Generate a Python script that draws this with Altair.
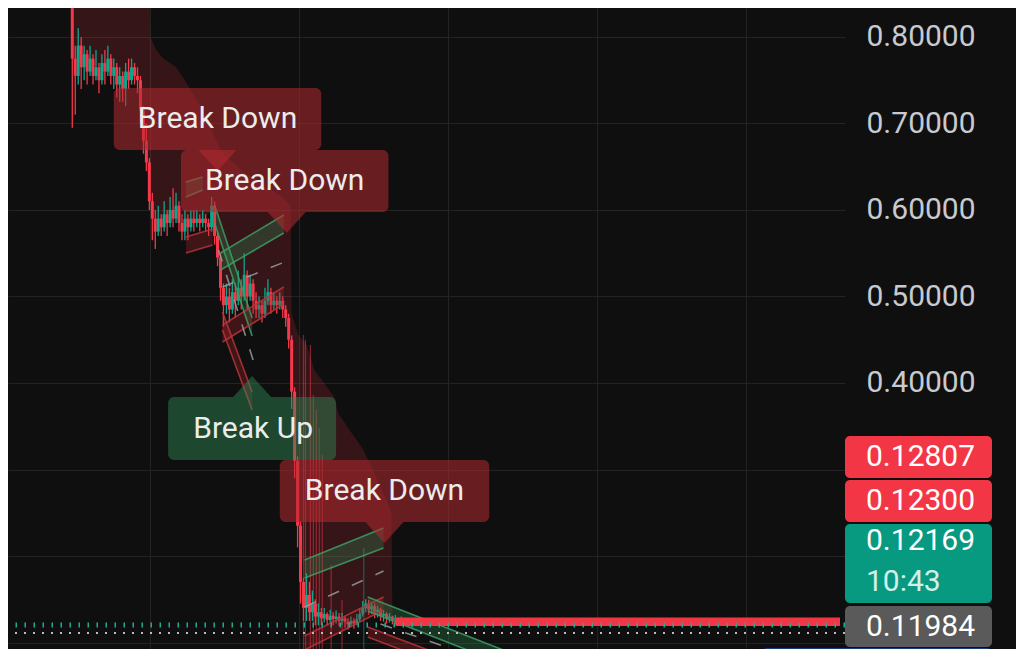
import altair as alt
import pandas as pd

BG = "#0f0f0f"
RED = "#f23645"
TEAL = "#089981"
GRID = "#232323"

# ---------------- data ----------------
price_ticks = [0.1, 0.2, 0.3, 0.4, 0.5, 0.6, 0.7, 0.8]
time_grid = [147, 297, 448, 599, 750]

candle_t = list(range(68, 411, 3))
first_open = 0.86
close = [0.775, 0.755, 0.79, 0.765, 0.78, 0.76, 0.775, 0.755, 0.765, 0.75,
         0.77, 0.76, 0.775, 0.755, 0.765, 0.745, 0.755, 0.74, 0.76, 0.75,
         0.765, 0.755, 0.75, 0.715, 0.68, 0.655, 0.61, 0.59, 0.575, 0.59,
         0.58, 0.595, 0.585, 0.60, 0.59, 0.605, 0.585, 0.575, 0.59, 0.58,
         0.59, 0.585, 0.59, 0.585, 0.59, 0.585, 0.58, 0.605, 0.57, 0.545,
         0.51, 0.49, 0.50, 0.485, 0.505, 0.495, 0.51, 0.50, 0.525, 0.50,
         0.515, 0.495, 0.485, 0.49, 0.48, 0.495, 0.505, 0.49, 0.495, 0.49,
         0.495, 0.485, 0.475, 0.45, 0.39, 0.31, 0.235, 0.17, 0.14, 0.155,
         0.135, 0.145, 0.13, 0.135, 0.128, 0.133, 0.126, 0.131, 0.127, 0.13,
         0.125, 0.128, 0.124, 0.121, 0.125, 0.122, 0.127, 0.133, 0.14, 0.145,
         0.138, 0.142, 0.135, 0.138, 0.131, 0.133, 0.128, 0.13, 0.126, 0.128,
         0.124, 0.126, 0.123, 0.1225, 0.12169]
high = [0.87, 0.79, 0.81, 0.80, 0.79, 0.785, 0.79, 0.78, 0.785, 0.77,
        0.78, 0.785, 0.79, 0.78, 0.775, 0.77, 0.765, 0.76, 0.77, 0.775,
        0.775, 0.77, 0.765, 0.755, 0.72, 0.70, 0.66, 0.62, 0.60, 0.605,
        0.595, 0.61, 0.60, 0.615, 0.625, 0.62, 0.61, 0.595, 0.60, 0.595,
        0.60, 0.60, 0.60, 0.595, 0.60, 0.595, 0.59, 0.615, 0.61, 0.575,
        0.55, 0.515, 0.515, 0.51, 0.52, 0.515, 0.53, 0.52, 0.55, 0.53,
        0.525, 0.52, 0.505, 0.50, 0.495, 0.51, 0.52, 0.51, 0.505, 0.50,
        0.505, 0.50, 0.49, 0.48, 0.455, 0.395, 0.315, 0.24, 0.175, 0.18,
        0.17, 0.16, 0.15, 0.145, 0.14, 0.14, 0.135, 0.138, 0.135, 0.137,
        0.134, 0.134, 0.131, 0.128, 0.13, 0.128, 0.133, 0.14, 0.148, 0.15,
        0.149, 0.147, 0.145, 0.142, 0.14, 0.137, 0.135, 0.134, 0.131, 0.132,
        0.129, 0.13, 0.127, 0.125, 0.124]
low = [0.695, 0.71, 0.745, 0.74, 0.75, 0.745, 0.755, 0.745, 0.75, 0.735,
       0.745, 0.745, 0.755, 0.745, 0.74, 0.73, 0.725, 0.725, 0.72, 0.74,
       0.745, 0.745, 0.735, 0.70, 0.665, 0.645, 0.60, 0.565, 0.555, 0.57,
       0.57, 0.575, 0.57, 0.58, 0.58, 0.585, 0.575, 0.565, 0.565, 0.565,
       0.575, 0.575, 0.58, 0.575, 0.58, 0.575, 0.57, 0.575, 0.56, 0.535,
       0.495, 0.465, 0.48, 0.47, 0.48, 0.475, 0.49, 0.485, 0.495, 0.485,
       0.495, 0.48, 0.475, 0.475, 0.47, 0.475, 0.49, 0.48, 0.485, 0.48,
       0.485, 0.475, 0.465, 0.44, 0.37, 0.29, 0.21, 0.145, 0.125, 0.125,
       0.125, 0.125, 0.12, 0.12, 0.12, 0.123, 0.12, 0.122, 0.12, 0.122,
       0.119, 0.12, 0.117, 0.115, 0.118, 0.116, 0.12, 0.124, 0.13, 0.135,
       0.132, 0.133, 0.128, 0.129, 0.125, 0.124, 0.122, 0.123, 0.121, 0.121,
       0.119, 0.12, 0.119, 0.12, 0.119]

# long faded wicks
spike_t = [302, 304, 309, 312, 315, 318, 321, 330, 341, 363]
spike_high = [0.4555, 0.45, 0.444, 0.386, 0.369, 0.348, 0.317, 0.19, 0.149, 0.209]
spike_low = [0.05, 0.05, 0.05, 0.05, 0.05, 0.05, 0.05, 0.05, 0.05, 0.05]
spike_dir = ["down", "down", "down", "down", "down", "down", "down", "down", "down", "up"]

# trailing shaded zone
shade_t = [68, 80, 100, 120, 135, 140, 146, 147, 153, 160, 167, 173, 182, 200, 210,
           220, 240, 260, 280, 289, 290, 297, 305, 313, 333, 337, 363, 380, 391, 392]
shade_lo = [0.77, 0.77, 0.765, 0.755, 0.75, 0.70, 0.62, 0.61, 0.59, 0.59, 0.60, 0.60, 0.59, 0.59, 0.60,
            0.50, 0.51, 0.49, 0.495, 0.45, 0.44, 0.23, 0.155, 0.145, 0.13, 0.13, 0.14, 0.135, 0.13, 0.13]
shade_hi = [0.86, 0.86, 0.86, 0.86, 0.86, 0.86, 0.86, 0.80, 0.785, 0.775, 0.77, 0.765, 0.75, 0.715, 0.69,
            0.665, 0.645, 0.63, 0.615, 0.605, 0.48, 0.455, 0.445, 0.415, 0.384, 0.365, 0.322, 0.28, 0.25, 0.13]

# channel bands
band_id = ["g1", "rb", "ga", "gs", "rs", "rr1", "g2", "rr2", "gf", "rf"]
band_kind = ["g", "r", "g", "g", "r", "r", "g", "r", "g", "r"]
band_t1 = [218, 183, 183, 212, 220, 220, 303, 303, 367, 367]
band_t2 = [282, 210, 200, 250, 250, 282, 383, 383, 530, 460]
band_top1 = [0.5503, 0.5688, 0.6324, 0.6058, 0.4821, 0.4671, 0.1954, 0.1075, 0.1526, 0.1179]
band_top2 = [0.5942, 0.5780, 0.6382, 0.4751, 0.3896, 0.5110, 0.2324, 0.1526, 0.0798, 0.0775]
band_bot1 = [0.5306, 0.5503, 0.6150, 0.5850, 0.4613, 0.4474, 0.1746, 0.0913, 0.1364, 0.1064]
band_bot2 = [0.5734, 0.5595, 0.6231, 0.4543, 0.3688, 0.4913, 0.2092, 0.1376, 0.0636, 0.0659]

# dashed midlines
mid_id = ["m1", "m2", "m3", "m4"]
mid_t1 = [220, 216, 303, 380]
mid_t2 = [283, 251, 383, 475]
mid_v1 = [0.5110, 0.5538, 0.1410, 0.1214]
mid_v2 = [0.5399, 0.4266, 0.1827, 0.0832]

# levels
level_band_t = [395, 845]
level_band_v = [0.1191, 0.1288]
teal_dotted_v = [0.1202]
white_dotted_v = [0.1110]

# signal labels
lab_text = ["Break Down", "Break Down", "Break Up", "Break Down"]
lab_kind = ["red", "red", "green", "red"]
lab_t0 = [110, 178, 165, 278]
lab_t1 = [320, 388, 335, 490]
lab_vtop = [0.7410, 0.6694, 0.3838, 0.3110]
lab_vbot = [0.6694, 0.5977, 0.3110, 0.2393]
lab_text_t = [215, 283, 251, 384]
lab_text_v = [0.7052, 0.6335, 0.3468, 0.2751]
ptr_t = [215, 285, 250, 384]
ptr_v = [0.6694, 0.5977, 0.3838, 0.2393]
ptr_dir = ["down", "down", "up", "down"]

# price tags on the scale
tag_text = ["0.12807", "0.12300", "0.12169", "10:43", "0.11984"]
tag_fill = [RED, RED, TEAL, "#5a5a5a"]

# ---------------- styles ----------------
DIR_COL = {"up": "#0ca88d", "down": "#f5384a"}
BAND_FILL = {"g": "#2f8f57", "r": "#b3262d"}
BAND_EDGE = {"g": "#3f9d64", "r": "#b8343a"}
BOX_FILL = {"red": "#b22a30", "green": "#2e8b57"}
BOX_OP = {"red": 0.55, "green": 0.45}

# ---------------- scales ----------------
xs = alt.Scale(domain=[8, 845], nice=False, zero=False)
ys = alt.Scale(domain=[0.0925, 0.8335], nice=False, zero=False)
xaxis = alt.Axis(values=time_grid, labels=False, ticks=False, domain=False,
                 grid=True, gridColor=GRID, gridWidth=1, title="")
yaxis = alt.Axis(orient="right", values=price_ticks,
                 labelExpr="datum.value > 0.35 ? format(datum.value, '.5f') : ''",
                 ticks=False, tickSize=0, domain=False, grid=True, gridColor=GRID,
                 gridWidth=1, labelFont="Roboto", labelFontSize=30,
                 labelColor="#c8cacf", labelPadding=21, title="")


def X(f):
    return alt.X(f"{f}:Q", scale=xs, axis=xaxis)


def Y(f):
    return alt.Y(f"{f}:Q", scale=ys, axis=yaxis)


COL = alt.Color("col:N", scale=None)
OP = alt.Opacity("op:Q", scale=None)

# ---------------- frames ----------------
opens = [first_open] + close[:-1]
cdf = pd.DataFrame({"t": candle_t, "o": opens, "c": close, "h": high, "l": low})
cdf["h"] = cdf[["h", "o", "c"]].max(axis=1)
cdf["l"] = cdf[["l", "o", "c"]].min(axis=1)
cdf["col"] = [DIR_COL["up"] if c >= o else DIR_COL["down"] for o, c in zip(cdf["o"], cdf["c"])]

sdf = pd.DataFrame({"t": spike_t, "h": spike_high, "l": spike_low,
                    "col": [DIR_COL[d] for d in spike_dir]})
shdf = pd.DataFrame({"t": shade_t, "lo": shade_lo, "hi": shade_hi})

brow = []
for i in range(len(band_id)):
    for tt, tp, bt in ((band_t1[i], band_top1[i], band_bot1[i]), (band_t2[i], band_top2[i], band_bot2[i])):
        brow.append({"band": band_id[i], "t": tt, "top": tp, "bot": bt,
                     "col": BAND_FILL[band_kind[i]], "ecol": BAND_EDGE[band_kind[i]]})
bdf = pd.DataFrame(brow)

mrow = []
for i in range(len(mid_id)):
    mrow.append({"mid": mid_id[i], "t": mid_t1[i], "v": mid_v1[i]})
    mrow.append({"mid": mid_id[i], "t": mid_t2[i], "v": mid_v2[i]})
mdf = pd.DataFrame(mrow)

ldf = pd.DataFrame({"text": lab_text, "t0": lab_t0, "t1": lab_t1,
                    "v0": lab_vtop, "v1": lab_vbot, "tt": lab_text_t, "tv": lab_text_v,
                    "col": [BOX_FILL[k] for k in lab_kind], "op": [BOX_OP[k] for k in lab_kind]})
pdf = pd.DataFrame({"t": ptr_t, "v": ptr_v, "dir": ptr_dir,
                    "col": [BOX_FILL[k] for k in lab_kind], "op": [BOX_OP[k] for k in lab_kind]})

# ---------------- layers ----------------
shade = alt.Chart(shdf).mark_area(color=RED, opacity=0.17, clip=True).encode(
    x=X("t"), y=Y("hi"), y2="lo")

spikes = alt.Chart(sdf).mark_rule(strokeWidth=1.2, opacity=0.5, clip=True).encode(
    x=X("t"), y=Y("h"), y2="l", color=COL)

wicks = alt.Chart(cdf).mark_rule(strokeWidth=1.3, clip=True).encode(
    x=X("t"), y=Y("h"), y2="l", color=COL)

bodies = alt.Chart(cdf).mark_bar(size=3, clip=True).encode(
    x=X("t"), y=Y("o"), y2="c", color=COL)

band_fill = alt.Chart(bdf).mark_area(opacity=0.3, clip=True).encode(
    x=X("t"), y=Y("top"), y2="bot", detail="band:N", color=COL)
band_top = alt.Chart(bdf).mark_line(strokeWidth=1.6, opacity=0.85, clip=True).encode(
    x=X("t"), y=Y("top"), detail="band:N", color=alt.Color("ecol:N", scale=None))
band_bot = alt.Chart(bdf).mark_line(strokeWidth=1.6, opacity=0.85, clip=True).encode(
    x=X("t"), y=Y("bot"), detail="band:N", color=alt.Color("ecol:N", scale=None))

mids = alt.Chart(mdf).mark_line(strokeWidth=1.6, strokeDash=[12, 14], color="#9a9a9a",
                                opacity=0.85, clip=True).encode(
    x=X("t"), y=Y("v"), detail="mid:N")

level = alt.Chart(pd.DataFrame({"t0": [level_band_t[0]], "t1": [level_band_t[1]],
                                "v0": [level_band_v[0]], "v1": [level_band_v[1]]})).mark_rect(
    color=RED, clip=True).encode(x=X("t0"), x2="t1", y=Y("v0"), y2="v1")

teal_dots = alt.Chart(pd.DataFrame({"v": teal_dotted_v})).mark_rule(
    color="#22ab94", strokeWidth=5, strokeDash=[1.5, 7.5]).encode(y=Y("v"))
white_dots = alt.Chart(pd.DataFrame({"v": white_dotted_v})).mark_rule(
    color="#bdbdbd", strokeWidth=2, strokeDash=[2, 7]).encode(y=Y("v"))

boxes = alt.Chart(ldf).mark_rect(cornerRadius=6).encode(
    x=X("t0"), x2="t1", y=Y("v0"), y2="v1", color=COL, opacity=OP)

ptr_shape = alt.Shape("dir:N", scale=alt.Scale(domain=["down", "up"],
                                               range=["M-1,0L1,0L0,1.1Z", "M-1,0L1,0L0,-1.1Z"]),
                      legend=None)
pointers = alt.Chart(pdf).mark_point(filled=True, size=1444, strokeWidth=0).encode(
    x=X("t"), y=Y("v"), shape=ptr_shape, color=COL, opacity=OP)

texts = alt.Chart(ldf).mark_text(font="Roboto", fontSize=30, color="#ececec",
                                 align="center", baseline="middle").encode(
    x=X("tt"), y=Y("tv"), text="text:N")

one = pd.DataFrame({"a": [0]})
tag_layers = []
tag_boxes_y = [(428, 470), (472, 514), (516, 595), (598, 639)]
for (y0, y1), col in zip(tag_boxes_y, tag_fill):
    tag_layers.append(alt.Chart(one).mark_rect(color=col, cornerRadius=5).encode(
        x=alt.value(837), x2=alt.value(984), y=alt.value(y0), y2=alt.value(y1)))
tag_layers.append(alt.Chart(one).mark_rect(color="#1b3a7c", cornerRadius=5).encode(
    x=alt.value(754), x2=alt.value(984), y=alt.value(640), y2=alt.value(662)))
tag_text_y = [449, 493, 533, 574, 619]
tag_text_col = ["#ffffff", "#ffffff", "#ffffff", "#d4efe9", "#ffffff"]
for txt, ty, tc in zip(tag_text, tag_text_y, tag_text_col):
    tag_layers.append(alt.Chart(one).mark_text(font="Roboto", fontSize=30, color=tc,
                                               align="left", baseline="middle").encode(
        x=alt.value(858), y=alt.value(ty), text=alt.value(txt)))

chart = alt.layer(
    shade, spikes, wicks, bodies, band_fill, band_top, band_bot, mids,
    level, teal_dots, white_dots, boxes, pointers, texts, *tag_layers
).properties(
    width=837, height=641,
    autosize=alt.AutoSizeParams(type="none"),
    padding={"left": 0, "top": 0, "right": 171, "bottom": 0},
).configure(background=BG).configure_view(strokeWidth=0)

chart.save("out.html", embed_options={"renderer": "svg", "actions": False})
